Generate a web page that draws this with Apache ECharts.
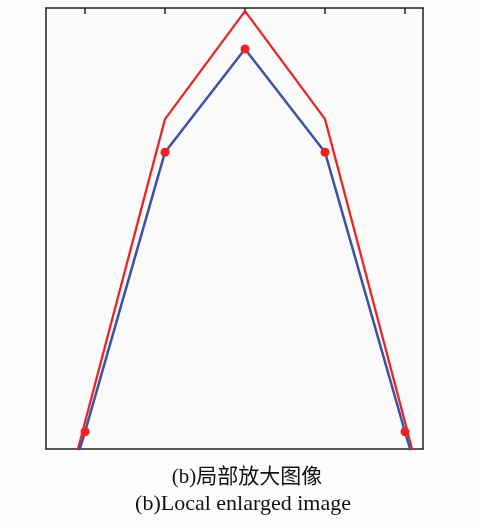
<!DOCTYPE html>
<html>
<head>
<meta charset="utf-8">
<script src="https://cdn.jsdelivr.net/npm/echarts@6/dist/echarts.min.js"></script>
<style>
  html, body { margin: 0; padding: 0; background: #fcfcfc; }
  #chart { width: 478px; height: 526px; }
</style>
</head>
<body>
<div id="chart"></div>
<script>
// Sample positions (the outer two lie beyond the visible window and are clipped)
const xValues = [0, 1, 2, 3, 4, 5, 6];
// Measured profile (blue, with sample markers)
const blueValues = [-57, 3.9, 67.3, 90.7, 67.3, 3.9, -57];
// Reference profile (red)
const redValues = [-64, 6.1, 74.8, 99.3, 74.8, 6.1, -64];
// Tick positions along the top edge
const tickValues = [1, 2, 3, 4, 5];
const captionCn = '(b)局部放大图像';
const captionEn = '(b)Local enlarged image';

const X_MIN = 0.5125, X_MAX = 5.225;

const chart = echarts.init(document.getElementById('chart'));

const frame = { show: true, onZero: false, lineStyle: { color: '#222', width: 1.5 } };

chart.setOption({
  backgroundColor: '#fcfcfc',
  animation: false,
  grid: { left: 46, right: 55, top: 8, bottom: 77, backgroundColor: '#fafafa', show: true, borderWidth: 0 },
  xAxis: [
    {
      type: 'value', position: 'bottom', min: X_MIN, max: X_MAX,
      axisLine: frame, axisTick: { show: false }, axisLabel: { show: false }, splitLine: { show: false }
    },
    {
      type: 'value', position: 'top', min: X_MIN, max: X_MAX,
      axisLine: frame,
      axisTick: { show: true, inside: true, length: 6, customValues: tickValues, lineStyle: { color: '#222', width: 1.5 } },
      axisLabel: { show: false }, splitLine: { show: false }
    }
  ],
  yAxis: [
    {
      type: 'value', position: 'left', min: 0, max: 100,
      axisLine: frame, axisTick: { show: false }, axisLabel: { show: false }, splitLine: { show: false }
    },
    {
      type: 'value', position: 'right', min: 0, max: 100,
      axisLine: frame, axisTick: { show: false }, axisLabel: { show: false }, splitLine: { show: false }
    }
  ],
  series: [
    {
      type: 'line', xAxisIndex: 0, yAxisIndex: 0, clip: true,
      data: xValues.map((x, i) => [x, redValues[i]]),
      symbol: 'none',
      lineStyle: { color: '#ee2020', width: 2.2 },
      z: 2
    },
    {
      type: 'line', xAxisIndex: 0, yAxisIndex: 0, clip: true,
      data: xValues.map((x, i) => ({
        value: [x, blueValues[i]],
        symbol: tickValues.includes(x) ? 'circle' : 'none'
      })),
      symbolSize: 9,
      itemStyle: { color: '#ee2020', borderWidth: 0 },
      lineStyle: { color: '#3a52a8', width: 2.5 },
      z: 3
    }
  ],
  graphic: [
    {
      type: 'text', x: 247, y: 467,
      style: { text: captionCn, align: 'center', font: '21px "Liberation Serif", "Noto Sans CJK SC", serif', fill: '#111' }
    },
    {
      type: 'text', x: 243, y: 493,
      style: { text: captionEn, align: 'center', font: '22px "Liberation Serif", serif', fill: '#111' }
    }
  ]
});
</script>
</body>
</html>
